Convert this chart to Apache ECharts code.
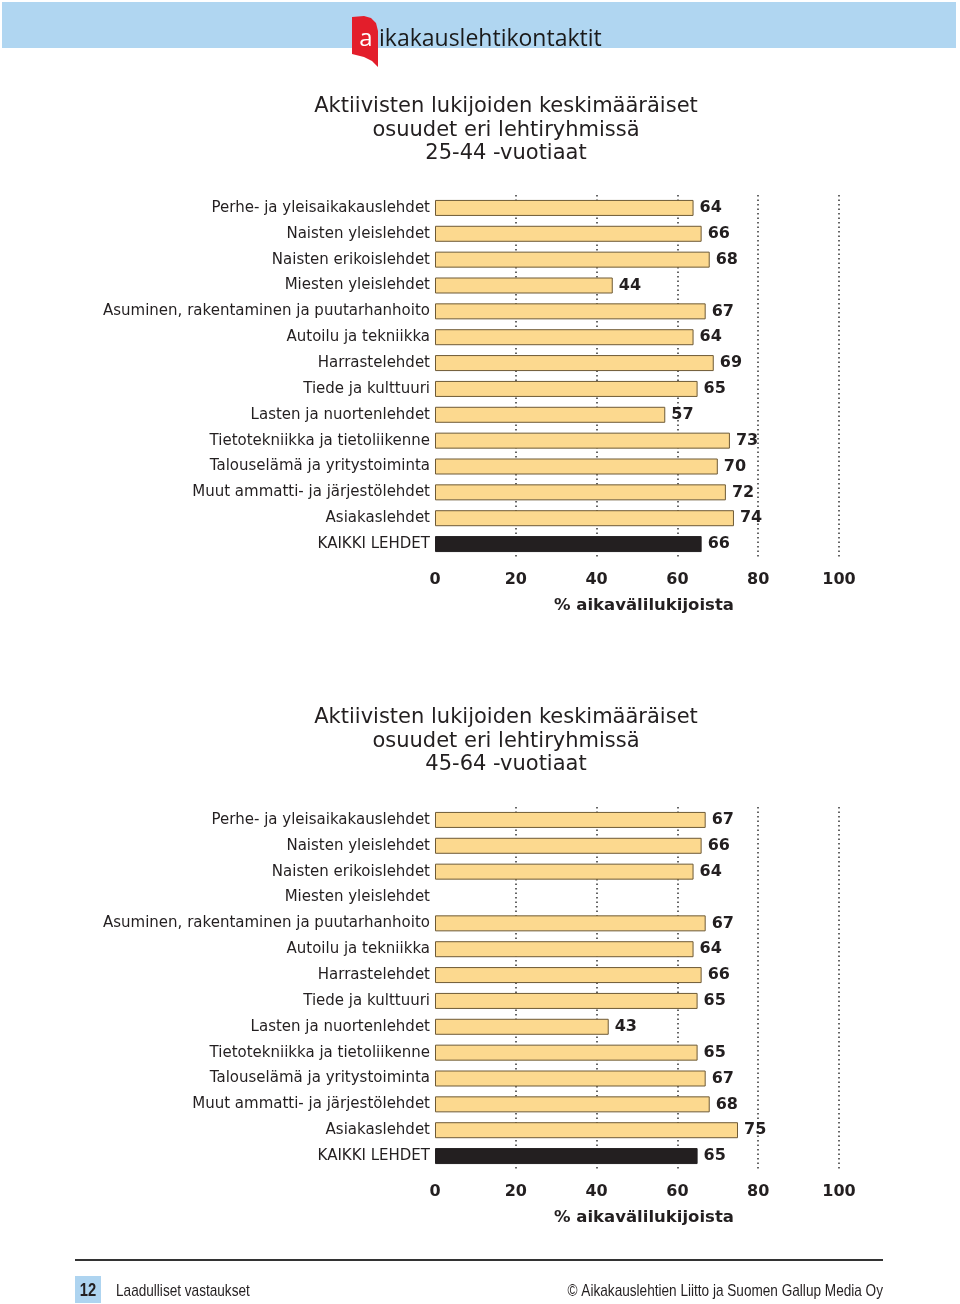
<!DOCTYPE html>
<html>
<head>
<meta charset="utf-8">
<script src="https://cdn.jsdelivr.net/npm/echarts@6/dist/echarts.min.js"></script>
<style>
html,body{margin:0;padding:0;background:#fff;}
#c{width:960px;height:1304px;}
</style>
</head>
<body>
<div id="c"></div>
<script>
const categories = [
  'Perhe- ja yleisaikakauslehdet',
  'Naisten yleislehdet',
  'Naisten erikoislehdet',
  'Miesten yleislehdet',
  'Asuminen, rakentaminen ja puutarhanhoito',
  'Autoilu ja tekniikka',
  'Harrastelehdet',
  'Tiede ja kulttuuri',
  'Lasten ja nuortenlehdet',
  'Tietotekniikka ja tietoliikenne',
  'Talouselämä ja yritystoiminta',
  'Muut ammatti- ja järjestölehdet',
  'Asiakaslehdet',
  'KAIKKI LEHDET'
];
const values25to44 = [64, 66, 68, 44, 67, 64, 69, 65, 57, 73, 70, 72, 74, 66];
const values45to64 = [67, 66, 64, null, 67, 64, 66, 65, 43, 65, 67, 68, 75, 65];
const xTicks = [0, 20, 40, 60, 80, 100];
const titles = [
  'Aktiivisten lukijoiden keskimääräiset\nosuudet eri lehtiryhmissä\n25-44 -vuotiaat',
  'Aktiivisten lukijoiden keskimääräiset\nosuudet eri lehtiryhmissä\n45-64 -vuotiaat'
];
const axisName = '% aikavälilukijoista';

const DARK = '#231f20';
const BAR = '#fcd98f';
const BORDER = '#6e5a36';
const FONT = 'DejaVu Sans, Verdana, sans-serif';
const NARROW = '"Liberation Sans Narrow", "Liberation Sans", Arial, sans-serif';

function mkData(vals) {
  return vals.map((v, i) => i === vals.length - 1
    ? { value: v, itemStyle: { color: DARK, borderColor: DARK } }
    : v);
}

const gridTops = [195, 807];
const grids = gridTops.map(t => ({ left: 435, width: 404, top: t, height: 362, containLabel: false }));

const xAxes = gridTops.map((t, i) => ({
  type: 'value', gridIndex: i, min: 0, max: 100, interval: 20,
  name: axisName, nameLocation: 'middle', nameGap: 40,
  nameTextStyle: { fontFamily: FONT, fontWeight: 'bold', fontSize: 16.5, color: DARK, padding: [0, 0, 0, 14] },
  axisLine: { show: false }, axisTick: { show: false },
  axisLabel: { fontFamily: FONT, fontWeight: 'bold', fontSize: 16, color: DARK, margin: 15,
    formatter: v => xTicks.includes(v) ? String(v) : '' },
  splitLine: { show: true, showMinLine: false, lineStyle: { type: [1.5, 3], color: '#333', width: 1.5 } }
}));

const yAxes = gridTops.map((t, i) => ({
  type: 'category', gridIndex: i, data: categories, inverse: true,
  axisLine: { show: false }, axisTick: { show: false },
  axisLabel: { fontFamily: FONT, fontSize: 15, color: DARK, margin: 5 },
  splitLine: { show: false }
}));

const series = [values25to44, values45to64].map((vals, i) => ({
  type: 'bar', xAxisIndex: i, yAxisIndex: i, data: mkData(vals),
  barWidth: 16,
  itemStyle: { color: BAR, borderColor: BORDER, borderWidth: 1 },
  label: { show: true, position: 'right', distance: 6, fontFamily: FONT, fontWeight: 'bold', fontSize: 16, color: DARK, padding: [3, 0, 0, 0] },
  silent: true, animation: false
}));

const graphic = [
  { type: 'rect', shape: { x: 2, y: 2, width: 954, height: 46 }, style: { fill: '#b0d6f1' } },
  { type: 'polygon', shape: { points: [[352,17],[364,16],[371,18],[376,23],[378,31],[378,67],[372,61],[364,57],[352,54]] }, style: { fill: '#e31e2b' } },
  { type: 'text', style: { x: 366, y: 39, text: 'a', fill: '#fff', font: '24px "Open Sans", sans-serif', textAlign: 'center', textVerticalAlign: 'middle' } },
  { type: 'text', style: { x: 379, y: 39, text: 'ikakauslehtikontaktit', fill: '#1a1a1a', font: '23px "Open Sans", sans-serif', textAlign: 'left', textVerticalAlign: 'middle' } },
  { type: 'line', shape: { x1: 75, y1: 1260, x2: 883, y2: 1260 }, style: { stroke: '#333', lineWidth: 2 } },
  { type: 'rect', shape: { x: 75, y: 1276, width: 26, height: 27 }, style: { fill: '#aed4f0' } },
  { type: 'text', x: 88, y: 1291, scaleX: 0.82, style: { x: 0, y: 0, text: '12', fill: DARK, font: 'bold 18px ' + NARROW, textAlign: 'center', textVerticalAlign: 'middle' } },
  { type: 'text', x: 116, y: 1291, scaleX: 0.8, style: { x: 0, y: 0, text: 'Laadulliset vastaukset', fill: DARK, font: '17px ' + NARROW, textAlign: 'left', textVerticalAlign: 'middle' } },
  { type: 'text', x: 883, y: 1291, scaleX: 0.8, style: { x: 0, y: 0, text: '© Aikakauslehtien Liitto ja Suomen Gallup Media Oy', fill: DARK, font: '17px ' + NARROW, textAlign: 'right', textVerticalAlign: 'middle' } }
];

const chart = echarts.init(document.getElementById('c'), null, { renderer: 'canvas' });
chart.setOption({
  animation: false,
  backgroundColor: '#fff',
  title: titles.map((t, i) => ({
    text: t, left: 501, top: [90, 701][i], textAlign: 'center',
    textStyle: { fontFamily: FONT, fontWeight: 'normal', fontSize: 21, lineHeight: 23.5, color: DARK }
  })),
  grid: grids,
  xAxis: xAxes,
  yAxis: yAxes,
  series: series,
  graphic: graphic
});
</script>
</body>
</html>
